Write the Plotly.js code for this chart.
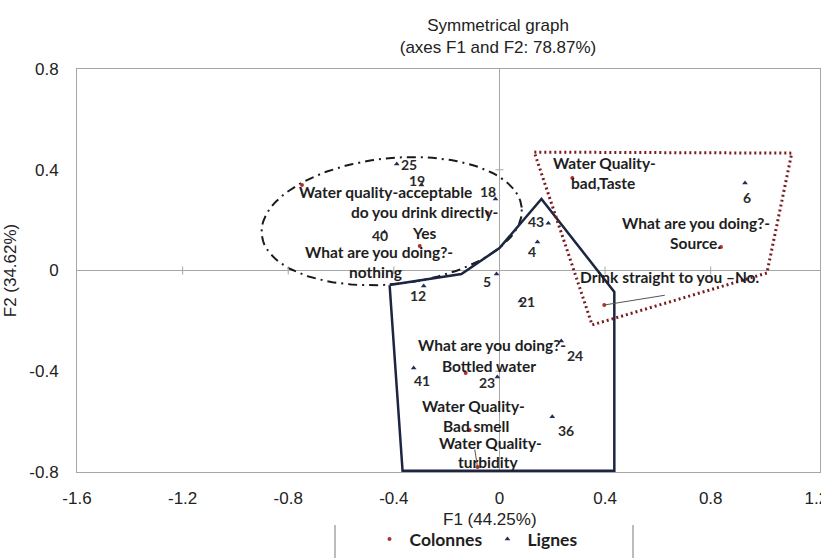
<!DOCTYPE html>
<html>
<head>
<meta charset="utf-8">
<script src="https://cdn.plot.ly/plotly-3.0.1.min.js"></script>
<style>html,body{margin:0;padding:0;background:#fff;}#chart{width:821px;height:558px;}</style>
</head>
<body>
<div id="chart"></div>
<script>
// ---------- data ----------
const lignesLabels = ['25','19','18','40','5','12','43','4','6','21','24','41','23','36'];
const lignesF1 = [-0.389,-0.295,-0.015,-0.435,-0.011,-0.287,0.185,0.144,0.930,0.079,0.234,-0.325,-0.008,0.200];
const lignesF2 = [0.423,0.339,0.284,0.153,-0.014,-0.062,0.188,0.113,0.347,-0.121,-0.280,-0.387,-0.423,-0.581];

const colonnesLabels = ['Water quality-acceptable','do you drink directly-Yes','What are you doing?-nothing',
  'Water Quality-bad,Taste','What are you doing?-Source.','Drink straight to you \u2013No.',
  'What are you doing?-Bottled water','Water Quality-Bad smell','Water Quality-turbidity'];
const colonnesF1 = [-0.748,-0.045,-0.302,0.276,0.839,0.397,-0.128,-0.113,-0.083];
const colonnesF2 = [0.339,0.228,0.097,0.367,0.093,-0.137,-0.407,-0.633,-0.780];

// cluster outlines
const clusterBlueF1 = [-0.416,-0.144,0.0,0.159,0.435,0.435,-0.367,-0.416];
const clusterBlueF2 = [-0.058,-0.014,0.089,0.284,-0.085,-0.795,-0.795,-0.058];
const clusterRedF1 = [0.132,1.107,1.013,0.351,0.132];
const clusterRedF2 = [0.470,0.466,-0.010,-0.216,0.470];
const ellipseCenter = [-0.408,0.196];

const xTicks = [-1.6,-1.2,-0.8,-0.4,0,0.4,0.8,1.2];
const xTickText = ['-1.6','-1.2','-0.8','-0.4','0','0.4','0.8','1.2'];
const yTicks = [-0.8,-0.4,0,0.4,0.8];
const yTickText = ['-0.8','-0.4','0','0.4','0.8'];

const chartTitle = 'Symmetrical graph<br>(axes F1 and F2: 78.87%)';
const xTitle = 'F1 (44.25%)';
const yTitle = 'F2 (34.62%)';

// ---------- presentation ----------
const ellipseAxesPx = [131,63];
const ellipseTiltDeg = 6;
const pxPerX = 264.6, pxPerY = 252;

// how each column label is broken into lines, with pixel offsets for each line
const colLines = [['Water quality-acceptable'],['do you drink directly-','Yes'],['What are you doing?-','nothing'],
  ['Water Quality-','bad,Taste'],['What are you doing?-','Source.'],['Drink straight to you \u2013No.'],
  ['What are you doing?-','Bottled water'],['Water Quality-','Bad smell'],['Water Quality-','turbidity']];
const colOffsets = [[[84,-7]],[[-63,1],[-63,-20]],[[-41,-6],[-44,-26]],[[32,15],[31,-5]],[[-25,24],[-25,4]],
  [[65,28]],[[26,28],[23,7]],[[4,24],[6,4]],[[13,24],[11,5]]];
const colLeaders = {5:[62,-10], 8:[-3,-19]};
const rowOffsets = [[12,-1],[-5,5],[-8,7],[-5,-4],[-10,-7],[-6,-9],[-12,2],[-5,-9],[2,-14],[7,-1],[14,-14],[8,-13],[-10,-5],[14,-14]];

const labelFont = {family:'Lato, "Liberation Sans", sans-serif', size:15.5, color:'#1e1e1e', weight:'bold'};
const numFont = {family:'Lato, "Liberation Sans", sans-serif', size:14, color:'#2a2a2a', weight:'bold'};
const axisFont = {family:'"Liberation Sans", Arial, sans-serif', size:17, color:'#222'};

// ellipse outline
const ex = [], ey = [];
const th = ellipseTiltDeg*Math.PI/180;
for (let i=0;i<=120;i++){
  const t = 2*Math.PI*i/120;
  const px = ellipseAxesPx[0]*Math.cos(t)*Math.cos(th) - ellipseAxesPx[1]*Math.sin(t)*Math.sin(th);
  const py = ellipseAxesPx[0]*Math.cos(t)*Math.sin(th) + ellipseAxesPx[1]*Math.sin(t)*Math.cos(th);
  ex.push(ellipseCenter[0] + px/pxPerX);
  ey.push(ellipseCenter[1] + py/pxPerY);
}

const traces = [
  {x:ex, y:ey, mode:'lines', line:{color:'#1a1a1a', width:2, dash:'9px,5px,2px,5px'}, hoverinfo:'skip', showlegend:false, cliponaxis:false},
  {x:clusterBlueF1, y:clusterBlueF2, mode:'lines', line:{color:'#1c2541', width:2.5}, hoverinfo:'skip', showlegend:false, cliponaxis:false},
  {x:clusterRedF1, y:clusterRedF2, mode:'lines', line:{color:'#7b1c1c', width:3, dash:'2px,3px'}, hoverinfo:'skip', showlegend:false, cliponaxis:false},
  {x:colonnesF1, y:colonnesF2, text:colonnesLabels, mode:'markers', name:'Colonnes',
   marker:{symbol:'circle', size:4, color:'#b0302a'}, hovertemplate:'%{text}<extra></extra>'},
  {x:lignesF1, y:lignesF2, text:lignesLabels, mode:'markers', name:'Lignes',
   marker:{symbol:'triangle-up', size:5, color:'#1f2d5a'}, hovertemplate:'%{text}<extra></extra>'}
];

const annotations = [];
lignesLabels.forEach((lab,i)=>{
  annotations.push({x:lignesF1[i], y:lignesF2[i], text:lab, showarrow:false, font:numFont,
    xshift:rowOffsets[i][0], yshift:rowOffsets[i][1]});
});
colonnesLabels.forEach((lab,i)=>{
  colLines[i].forEach((line,j)=>{
    annotations.push({x:colonnesF1[i], y:colonnesF2[i], text:line, showarrow:false, font:labelFont,
      xshift:colOffsets[i][j][0], yshift:colOffsets[i][j][1]});
  });
  if (colLeaders[i]) {
    annotations.push({x:colonnesF1[i], y:colonnesF2[i], text:'', showarrow:true, arrowhead:0, arrowwidth:1,
      arrowcolor:'#555', ax:colLeaders[i][0], ay:colLeaders[i][1], standoff:0, startstandoff:0});
  }
});
annotations.push({xref:'paper', yref:'paper', x:(490-77)/743, y:(472-519)/403, text:xTitle, showarrow:false,
  font:axisFont, xanchor:'center', yanchor:'middle'});

const shapes = [];
[-1.2,-0.8,-0.4,0.4,0.8].forEach(v=>{
  shapes.push({type:'line', xref:'x', yref:'y', x0:v, x1:v, ysizemode:'pixel', yanchor:0, y0:-4, y1:4,
    line:{color:'#a6a6a6', width:1}});
});
[-0.4,0.4].forEach(v=>{
  shapes.push({type:'line', xref:'x', yref:'y', y0:v, y1:v, xsizemode:'pixel', xanchor:0, x0:-4, x1:4,
    line:{color:'#a6a6a6', width:1}});
});
[(335-77)/743,(633-77)/743].forEach(v=>{
  shapes.push({type:'line', xref:'paper', yref:'paper', x0:v, x1:v, y0:(472-525)/403, y1:(472-558)/403,
    line:{color:'#a6a6a6', width:1.5}});
});

const layout = {
  width:821, height:558,
  margin:{l:77, r:1, t:69, b:86},
  paper_bgcolor:'#ffffff', plot_bgcolor:'#ffffff',
  title:{text:chartTitle, font:{family:'"Liberation Sans", Arial, sans-serif', size:17, color:'#222'},
    x:498/821, xanchor:'center', y:1-31/558, yanchor:'middle'},
  xaxis:{range:[-1.6,1.214], tickvals:xTicks, ticktext:xTickText, showgrid:false, zeroline:true,
    zerolinecolor:'#a6a6a6', zerolinewidth:1, showline:true, mirror:true, linecolor:'#a6a6a6', linewidth:1,
    ticks:'outside', ticklen:11, tickcolor:'rgba(0,0,0,0)', tickfont:axisFont, ticklabeloverflow:'allow', fixedrange:true},
  yaxis:{range:[-0.8,0.8], tickvals:yTicks, ticktext:yTickText, showgrid:false, zeroline:true,
    zerolinecolor:'#a6a6a6', zerolinewidth:1, showline:true, mirror:true, linecolor:'#a6a6a6', linewidth:1,
    ticks:'outside', ticklen:14, tickcolor:'rgba(0,0,0,0)', tickfont:axisFont, fixedrange:true,
    title:{text:yTitle, font:axisFont, standoff:8}},
  legend:{orientation:'h', x:(476-77)/743, xanchor:'center', y:(472-539)/403, yanchor:'middle',
    font:{family:'Lato, "Liberation Sans", sans-serif', size:17.5, color:'#1e1e1e', weight:'bold'},
    itemwidth:30, bgcolor:'rgba(0,0,0,0)'},
  annotations:annotations,
  shapes:shapes,
  showlegend:true
};

Plotly.newPlot('chart', traces, layout, {displayModeBar:false, staticPlot:false});
</script>
</body>
</html>
